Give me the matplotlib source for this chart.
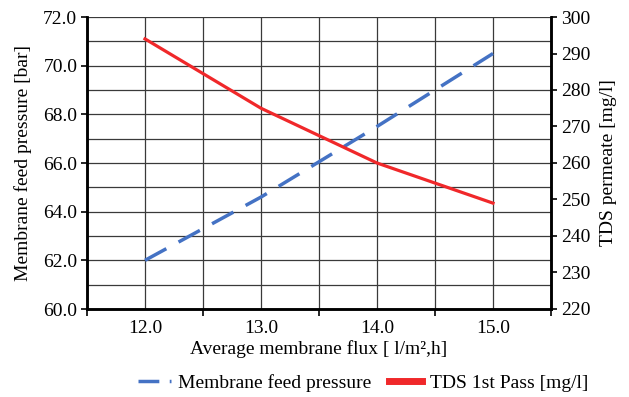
import matplotlib
matplotlib.use('Agg')
import matplotlib.pyplot as plt
from matplotlib.ticker import MultipleLocator, FixedLocator
from matplotlib.lines import Line2D

plt.rcParams['font.family'] = ['Liberation Serif', 'DejaVu Serif']

# data
flux = [12.0, 13.0, 14.0, 15.0]
feed_pressure = [62.0, 64.6, 67.5, 70.5]   # bar
tds_permeate = [294, 275, 260, 249]       # mg/l

fs = 14
blue = '#4472C4'
red = '#F0282A'

fig = plt.figure(figsize=(6.29, 3.97), dpi=100)
ax = fig.add_axes([87/629, 1 - 309/397, (551-87)/629, (309-17)/397])
ax2 = ax.twinx()

ax.plot(flux, feed_pressure, color=blue, lw=2.5, dashes=(7, 4))
ax2.plot(flux, tds_permeate, color=red, lw=2.3)

ax.set_xlim(11.5, 15.5)
ax.set_ylim(60, 72)
ax2.set_ylim(220, 300)

# x: labels at points, ticks at category edges
ax.xaxis.set_major_locator(FixedLocator(flux))
ax.xaxis.set_minor_locator(FixedLocator([11.5, 12.5, 13.5, 14.5, 15.5]))
ax.set_xticklabels(['%.1f' % v for v in flux])
ax.tick_params(axis='x', which='major', length=0, pad=8, labelsize=fs)
ax.tick_params(axis='x', which='minor', length=5, width=1.2, direction='out')

ax.yaxis.set_minor_locator(MultipleLocator(1))
ax.set_yticks(range(60, 73, 2))
ax.set_yticklabels(['%.1f' % v for v in range(60, 73, 2)])
ax.tick_params(axis='y', which='major', length=4, width=1.2, labelsize=fs, pad=3)
ax.tick_params(axis='y', which='minor', length=0)

ax2.set_yticks(range(220, 301, 10))
ax2.tick_params(axis='y', length=4, width=1.2, labelsize=fs, pad=3)

ax.grid(True, which='both', color='#3a3a3a', lw=0.9)
ax.set_axisbelow(True)

for a in (ax, ax2):
    a.spines['top'].set_visible(False)
    for s in ('left', 'right', 'bottom'):
        a.spines[s].set_linewidth(1.8)

ax.set_xlabel('Average membrane flux [ l/m\u00b2,h]', fontsize=fs, labelpad=2)
ax.set_ylabel('Membrane feed pressure [bar]', fontsize=fs, labelpad=8)
ax2.set_ylabel('TDS permeate [mg/l]', fontsize=fs, labelpad=7)

handles = [Line2D([], [], color=blue, lw=2.5, dashes=(6, 3)),
           Line2D([], [], color=red, lw=5)]
fig.legend(handles, ['Membrane feed pressure', 'TDS 1st Pass [mg/l]'],
           loc='center', bbox_to_anchor=(363/629, 1 - 383/397),
           ncol=2, frameon=False, fontsize=fs, handlelength=1.7,
           columnspacing=0.9, handletextpad=0.4)

fig.savefig('out.png', dpi=100)
plt.close()
